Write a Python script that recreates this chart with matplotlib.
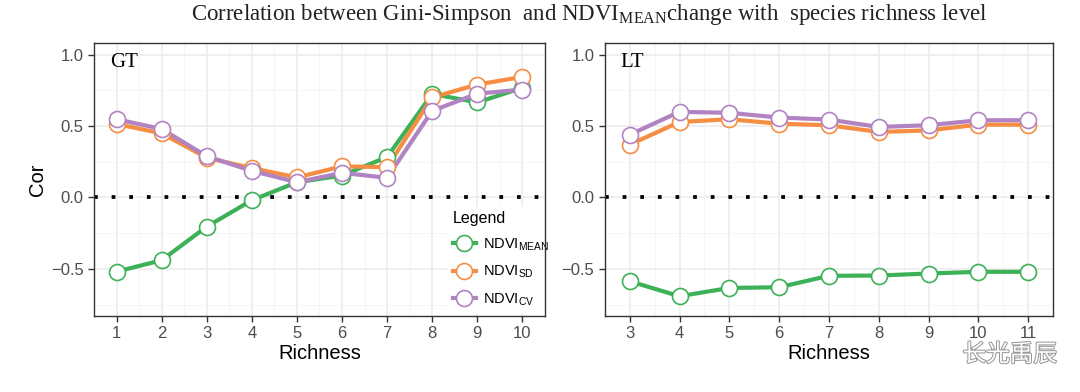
import matplotlib
matplotlib.use("Agg")
import matplotlib.pyplot as plt
import matplotlib.patheffects as pe
import numpy as np

plt.rcParams["font.family"] = ["Liberation Sans", "DejaVu Sans"]
plt.rcParams["mathtext.fontset"] = "custom"
plt.rcParams["mathtext.rm"] = "Liberation Sans"

# GT panel data
gt_richness = [1, 2, 3, 4, 5, 6, 7, 8, 9, 10]
gt_mean = [-0.52, -0.44, -0.205, -0.02, 0.106, 0.153, 0.283, 0.724, 0.665, 0.767]
gt_sd = [0.514, 0.448, 0.278, 0.205, 0.14, 0.217, 0.212, 0.70, 0.79, 0.844]
gt_cv = [0.547, 0.479, 0.288, 0.186, 0.106, 0.172, 0.137, 0.606, 0.726, 0.755]

# LT panel data
lt_richness = [3, 4, 5, 6, 7, 8, 9, 10, 11]
lt_mean = [-0.587, -0.692, -0.634, -0.629, -0.549, -0.547, -0.533, -0.521, -0.521]
lt_sd = [0.369, 0.528, 0.547, 0.516, 0.505, 0.458, 0.469, 0.509, 0.509]
lt_cv = [0.439, 0.599, 0.592, 0.559, 0.545, 0.493, 0.505, 0.540, 0.540]

series_labels = [r"NDVI$_{\mathregular{MEAN}}$", r"NDVI$_{\mathregular{SD}}$", r"NDVI$_{\mathregular{CV}}$"]
colors = ["#3DB157", "#F58E43", "#B183C3"]

fig = plt.figure(figsize=(10.8, 3.92), dpi=100)
ax1 = fig.add_axes([0.087, 0.194, 0.4176, 0.696])
ax2 = fig.add_axes([0.560, 0.194, 0.415, 0.696])


def draw_panel(ax, x, ys, tag, xlim):
    ax.set_xlim(*xlim)
    ax.set_ylim(-0.83, 1.08)
    ax.set_xticks(x)
    ax.set_xticks(np.arange(x[0] - 0.5, x[-1] + 1, 1.0), minor=True)
    ax.set_yticks([-0.5, 0.0, 0.5, 1.0])
    ax.set_yticks([-0.75, -0.25, 0.25, 0.75], minor=True)
    ax.set_yticklabels(["\u22120.5", "0.0", "0.5", "1.0"])
    ax.grid(True, which="major", color="#EBEBEB", lw=1.1, zorder=0)
    ax.grid(True, which="minor", color="#F4F4F4", lw=0.6, zorder=0)
    ax.set_axisbelow(True)
    ax.tick_params(which="minor", length=0)
    ax.tick_params(which="major", length=4, width=1, color="#333333",
                   labelsize=12, labelcolor="#4D4D4D")
    for s in ax.spines.values():
        s.set_color("#333333")
        s.set_linewidth(1.0)
        s.set_zorder(6)

    # zero reference line
    ax.axhline(0, color="black", lw=2.7, linestyle=(0, (1, 3.7)),
               dash_capstyle="butt", zorder=2)

    # lines first, then points (ggplot style)
    for y, c in zip(ys, colors):
        ax.plot(x, y, color=c, lw=3, solid_capstyle="butt", zorder=3)
    for y, c, lab in zip(ys, colors, series_labels):
        ax.plot(x, y, color=c, lw=3, marker="o", markersize=11.5,
                markerfacecolor="white", markeredgecolor=c, markeredgewidth=1.2,
                linestyle="none", zorder=4)
        ax.plot([], [], color=c, lw=3, marker="o", markersize=11.5,
                markerfacecolor="white", markeredgecolor=c, markeredgewidth=1.2,
                label=lab)

    ax.text(0.035, 0.965, tag, transform=ax.transAxes, ha="left", va="top",
            fontsize=15, family="Liberation Serif")
    ax.set_xlabel("Richness", fontsize=14.5, labelpad=2)


draw_panel(ax1, gt_richness, [gt_mean, gt_sd, gt_cv], "GT", (0.55, 10.45))
draw_panel(ax2, lt_richness, [lt_mean, lt_sd, lt_cv], "LT", (2.6, 11.4))

ax1.set_ylabel("Cor", fontsize=14.5, labelpad=3)

leg = ax1.legend(title="Legend", loc="lower right", bbox_to_anchor=(1.035, -0.012),
                 frameon=True, facecolor="white", edgecolor="white", framealpha=1,
                 fancybox=False, fontsize=10.5, title_fontsize=11.5,
                 handlelength=1.6, handletextpad=0.5, labelspacing=0.72,
                 borderpad=0.3, alignment="left")
leg.set_zorder(5)

fig.text(0.546, 0.962, r"Correlation between Gini-Simpson  and NDVI$_{\mathregular{MEAN}}$change with  species richness level",
         ha="center", va="center", fontsize=16.5, family="Liberation Serif",
         color="#222222", math_fontfamily="dejavuserif")

# watermark
fig.text(0.935, 0.095, "长光禹辰", ha="center", va="center", fontsize=17,
         family=["Noto Sans CJK SC", "DejaVu Sans"], color="white",
         path_effects=[pe.withStroke(linewidth=1.5, foreground="#9A9A9A")], zorder=20)

fig.savefig("out.png", dpi=100)
